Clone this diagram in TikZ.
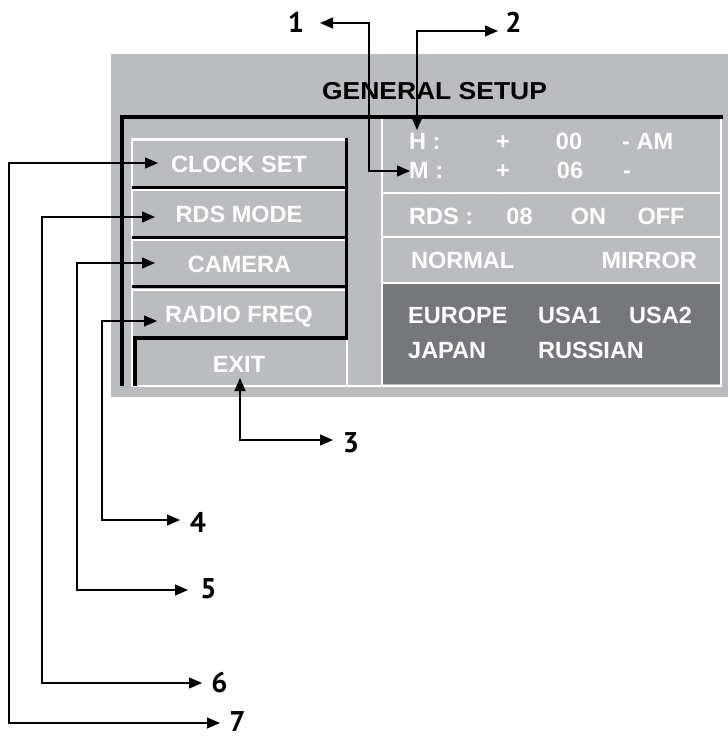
\documentclass[tikz,border=0pt]{standalone}
\usepackage{fontspec}
\setmainfont{Liberation Sans}
\newfontfamily\numfont{PT Sans}
\usetikzlibrary{arrows.meta}
\definecolor{panelgray}{HTML}{BBBCBF}
\definecolor{paneldark}{HTML}{76777B}
\begin{document}
\begin{tikzpicture}[x=1pt,y=-1pt,
  btn/.style={text=white,font=\fontsize{23.5}{28}\selectfont\bfseries,inner sep=0pt},
  num/.style={text=black,font=\numfont\fontsize{28.5}{32}\selectfont\bfseries,inner sep=0pt},
  wl/.style={white,line width=2.2pt},
  bl/.style={black,line width=3.5pt},
  conn/.style={line width=1.3pt,{Triangle[length=13pt,width=11pt]}-{Triangle[length=13pt,width=11pt]}}]
\useasboundingbox (0,0) rectangle (728,739);
% backgrounds
\fill[panelgray] (111,54) rectangle (728,397);
\fill[paneldark] (383,284) rectangle (720,384);
% right panel white lines
\draw[wl] (382,119) -- (382,386);
\draw[wl] (132,386) -- (721,386) -- (721,118);
\draw[wl] (382,193) -- (721,193);
\draw[wl] (382,237) -- (721,237);
\draw[wl] (382,283) -- (721,283);
% menu white lines
\draw[wl] (132,387) -- (132,139.5) -- (346,139.5);
\draw[wl] (132,190) -- (346,190);
\draw[wl] (132,240) -- (346,240);
\draw[wl] (132,290) -- (346,290);
\draw[wl] (347,338) -- (347,386);
% black lines
\draw[bl] (122,386) -- (122,117) -- (722.5,117);
\draw[black,line width=3pt] (132,187) -- (346,187);
\draw[black,line width=3pt] (132,237) -- (346,237);
\draw[black,line width=3pt] (132,286.5) -- (346,286.5);
\draw[black,line width=3pt] (346,138) -- (346,338);
\draw[black,line width=4pt] (134.5,386) -- (134.5,338) -- (348,338);
% title
\node[anchor=base,inner sep=0pt,font=\fontsize{24.5}{28}\selectfont\bfseries] (title) at (434.5,99) {\scalebox{1.08}[1]{GENERAL SETUP}};
% menu items
\node[btn,anchor=base] (clock) at (239,172) {CLOCK SET};
\node[btn,anchor=base] (rds) at (239,222) {RDS MODE};
\node[btn,anchor=base] (camera) at (239.5,272) {CAMERA};
\node[btn,anchor=base] (radio) at (239,322) {RADIO FREQ};
\node[btn,anchor=base] (exit) at (239,372) {EXIT};
% right panel texts
\node[btn,anchor=base west] (hl) at (409,149) {H :};
\node[btn,anchor=base] (hp) at (503,149) {+};
\node[btn,anchor=base] (hv) at (569,149) {00};
\node[btn,anchor=base west] (ham) at (622,149) {- AM};
\node[btn,anchor=base west] (ml) at (409,178) {M :};
\node[btn,anchor=base] (mp) at (503,178) {+};
\node[btn,anchor=base] (mv) at (570,178) {06};
\node[btn,anchor=base west] (mm) at (623,178) {-};
\node[btn,anchor=base west] (rdsl) at (409,224) {RDS :};
\node[btn,anchor=base] (rdsv) at (519.5,224) {08};
\node[btn,anchor=base] (on) at (588.5,224) {ON};
\node[btn,anchor=base] (off) at (661,224) {OFF};
\node[btn,anchor=base west] (normal) at (411,268) {NORMAL};
\node[btn,anchor=base east] (mirror) at (697,268) {MIRROR};
\node[btn,anchor=base west] (europe) at (408,323) {EUROPE};
\node[btn,anchor=base west] (usa1) at (538,323) {USA1};
\node[btn,anchor=base west] (usa2) at (629,323) {USA2};
\node[btn,anchor=base west] (japan) at (408,358) {JAPAN};
\node[btn,anchor=base west] (russian) at (538,358) {RUSSIAN};
% numbers
\node[num,anchor=base] (n1) at (296,32) {1};
\node[num,anchor=base] (n2) at (513.5,32) {2};
\node[num,anchor=base] (n3) at (351,452) {3};
\node[num,anchor=base] (n4) at (198,532) {4};
\node[num,anchor=base] (n5) at (208.5,598) {5};
\node[num,anchor=base] (n6) at (219.5,692) {6};
\node[num,anchor=base] (n7) at (237.5,731) {7};
% connector coordinates
\coordinate (a1) at (320,23);
\coordinate (k1) at (369,171);
\coordinate (b1) at (410,171);
\coordinate (a2) at (498,31);
\coordinate (b2) at (417,130);
\coordinate (a3) at (240,378);
\coordinate (b3) at (333,440);
\coordinate (t4) at (157,321);
\coordinate (k4) at (102,520);
\coordinate (e4) at (180,520);
\coordinate (t5) at (155,263);
\coordinate (k5) at (77,590);
\coordinate (e5) at (188,590);
\coordinate (t6) at (155,217);
\coordinate (k6) at (42,683);
\coordinate (e6) at (202,683);
\coordinate (t7) at (158,163);
\coordinate (k7) at (9,723);
\coordinate (e7) at (220,723);
% connectors
\draw[conn] (a1) -| (k1) -- (b1);
\draw[conn] (a2) -| (b2);
\draw[conn] (a3) |- (b3);
\draw[conn] (t4) -| (k4) -- (e4);
\draw[conn] (t5) -| (k5) -- (e5);
\draw[conn] (t6) -| (k6) -- (e6);
\draw[conn] (t7) -| (k7) -- (e7);
\end{tikzpicture}
\end{document}
